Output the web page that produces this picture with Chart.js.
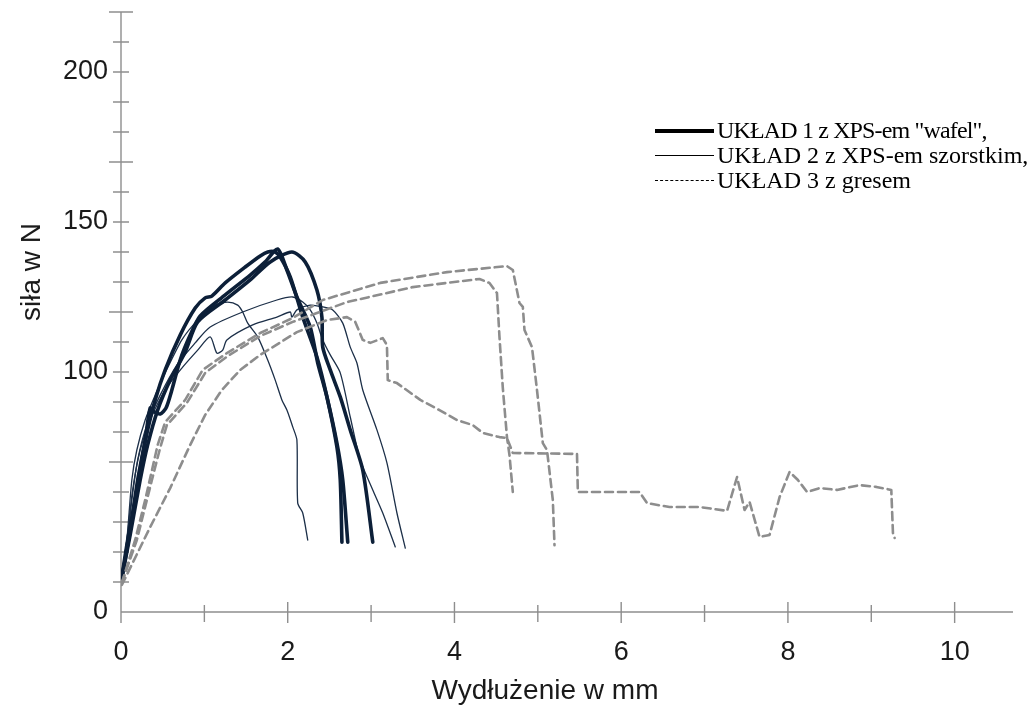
<!DOCTYPE html>
<html><head><meta charset="utf-8">
<script src="https://cdn.jsdelivr.net/npm/chart.js@4.4.1/dist/chart.umd.min.js"></script>
<style>
html,body{margin:0;padding:0;background:#fff;}
#wrap{position:relative;width:1033px;height:712px;overflow:hidden;}
canvas{position:absolute;left:0;top:0;}
.t{position:absolute;font-family:"Liberation Sans",Arial,sans-serif;color:#1a1a1a;white-space:nowrap;}
#xt{left:545px;top:690px;transform:translate(-50%,-50%);font-size:28px;}
#yt{left:31px;top:272px;transform:translate(-50%,-50%) rotate(-90deg);font-size:28px;}
#lg{position:absolute;left:655px;top:118px;font-family:"Liberation Serif","Times New Roman",serif;font-size:24px;color:#000;}
.row{display:flex;align-items:center;height:25px;white-space:nowrap;}
.r1{letter-spacing:-0.85px;}
.s{width:59px;margin-right:3px;height:0;letter-spacing:0;}
.s1{border-top:4px solid #000;}
.s2{border-top:1.6px solid #000;}
.s3{border-top:1.6px dashed #000;}
</style></head>
<body>
<div id="wrap">
<canvas id="c" width="1033" height="712"></canvas>
<div class="t" id="xt">Wydłużenie w mm</div>
<div class="t" id="yt">siła w N</div>
<div id="lg">
  <div class="row r1"><span class="s s1"></span>UKŁAD 1 z XPS-em "wafel",</div>
  <div class="row"><span class="s s2"></span>UKŁAD 2 z XPS-em szorstkim,</div>
  <div class="row"><span class="s s3"></span>UKŁAD 3 z gresem</div>
</div>
</div>
<script>
// ---- data (x: elongation mm, y: force on the chart's linear scale) ----
const seriesNames = ['UKŁAD 1 z XPS-em "wafel",', 'UKŁAD 2 z XPS-em szorstkim,', 'UKŁAD 3 z gresem'];

const wafel1X = [0.01,0.08,0.17,0.25,0.32,0.41,0.53,0.71,0.89,1.01,1.09,1.25,1.49,1.67,1.76,1.85,1.91,2.03,2.18,2.35,2.47,2.59,2.63,2.65];
const wafel1Y = [31.7,44.0,57.3,70.7,80.7,90.7,100.7,112.3,121.3,124.7,125.3,129.7,135.0,138.7,140.0,140.0,138.3,131.7,118.3,105.0,91.7,75.0,64.0,43.3];
const wafel2X = [0.01,0.11,0.20,0.29,0.35,0.40,0.47,0.54,0.61,0.71,0.83,0.95,1.25,1.55,1.73,1.88,1.99,2.11,2.27,2.36,2.47,2.59,2.66,2.72];
const wafel2Y = [31.3,47.3,64.0,77.3,88.0,86.7,86.0,88.0,94.0,104.0,112.3,118.7,125.7,132.3,136.7,141.0,134.0,125.0,115.0,103.0,91.7,76.3,64.0,43.3];
const wafel3X = [0.01,0.11,0.23,0.32,0.44,0.59,0.77,0.92,1.25,1.55,1.79,2.05,2.21,2.35,2.41,2.42,2.51,2.63,2.75,2.90,3.02];
const wafel3Y = [31.3,45.7,64.0,75.7,87.3,97.3,106.7,116.7,124.0,130.7,136.7,140.0,136.7,127.3,118.3,108.3,100.7,91.7,80.7,67.3,43.3];

const szorstki1X = [0.01,0.07,0.13,0.19,0.29,0.41,0.53,0.73,0.92,1.13,1.28,1.40,1.46,1.52,1.64,1.76,1.85,1.93,1.99,2.06,2.11,2.12,2.18,2.24];
const szorstki1Y = [31.7,44.0,64.0,74.0,84.0,92.3,99.7,110.7,117.3,122.3,123.3,122.3,120.0,116.3,111.7,104.0,97.3,90.7,87.3,81.7,77.3,56.3,53.0,44.0];
const szorstki2X = [0.01,0.07,0.14,0.23,0.35,0.53,0.73,0.92,1.07,1.15,1.22,1.27,1.58,1.87,2.03,2.05,2.11,2.27,2.42,2.54,2.66,2.75,2.83,2.90,3.07,3.19,3.31,3.41];
const szorstki2Y = [31.7,44.0,60.7,74.0,84.0,94.0,101.3,107.3,111.7,106.3,107.3,110.7,115.7,118.3,120.0,118.3,120.7,122.3,121.7,120.7,116.3,108.3,103.0,94.0,80.7,69.7,53.0,41.3];
const szorstki3X = [0.01,0.07,0.13,0.20,0.31,0.47,0.67,0.89,1.07,1.46,1.87,2.06,2.18,2.27,2.35,2.42,2.51,2.63,2.75,2.87,3.02,3.14,3.29];
const szorstki3Y = [31.7,42.3,57.3,70.7,82.3,92.3,102.3,109.7,115.0,120.0,124.0,125.0,123.3,120.7,116.3,110.7,105.7,99.7,85.0,70.7,60.7,53.0,41.7];

const gres1X = [0.01,0.17,0.29,0.38,0.44,0.53,0.77,0.98,1.27,1.67,2.06,2.42,3.11,3.91,4.63,4.70,4.78,4.82,4.84,4.93,4.99,5.06,5.11,5.18,5.20];
const gres1Y = [29.7,44.0,57.3,68.3,75.7,83.3,90.7,100.7,106.3,113.0,118.0,124.0,129.7,133.3,135.3,134.0,123.0,121.7,114.0,108.3,94.0,76.3,74.0,57.3,42.3];
const gres2X = [0.01,0.19,0.31,0.41,0.47,0.55,0.79,1.01,1.28,1.67,2.06,2.71,3.50,4.30,4.42,4.51,4.54,4.58,4.63,4.66,4.70];
const gres2Y = [29.7,44.0,57.3,68.3,74.7,82.3,89.7,99.7,105.3,112.0,116.7,123.3,128.3,131.0,129.7,126.3,111.7,94.7,78.3,72.3,60.0];
const gres3X = [0.01,0.35,0.59,0.83,1.01,1.21,1.43,1.67,2.11,2.47,2.71,2.81,2.90,2.99,3.14,3.19,3.20,3.31,3.59,3.82,4.03,4.22,4.34,4.54,4.63,4.70,5.47,5.48,6.22,6.31,6.58,6.94,7.27,7.39,7.48,7.54,7.66,7.78,7.90,8.02,8.12,8.23,8.38,8.59,8.86,9.06,9.24,9.26,9.28];
const gres3Y = [29.0,48.3,61.3,75.7,85.7,94.0,100.7,105.7,113.3,117.3,118.3,116.7,110.7,109.7,111.3,109.0,97.3,96.3,90.7,87.3,84.0,82.3,79.7,78.3,78.0,73.0,72.7,60.0,60.0,56.3,55.0,55.0,53.7,65.0,54.0,56.7,45.0,45.7,58.3,66.7,64.0,60.0,61.3,60.7,62.3,61.7,60.7,46.3,44.7];

// ---- axes ----
const xMin = 0, xMax = 10.7, yMin = 20, yMax = 220;
const xTickValues = [0,1,2,3,4,5,6,7,8,9,10];
const xLabelValues = [0,2,4,6,8,10];
const yTickValues = [20,30,40,50,60,70,80,90,100,110,120,130,140,150,160,170,180,190,200,210,220];
const yLongTicks = [70,120,170,220];
const yLabelValues = [20,100,150,200];
const yLabelTexts = ['0','100','150','200'];

function pts(xs, ys){ return xs.map((x,i)=>({x:x, y:ys[i]})); }

const navy = '#0c1f38';
const grey = '#8d8d8d';
function thick(xs,ys){ return {label:seriesNames[0], data:pts(xs,ys), borderColor:navy, borderWidth:3.6, tension:0.25}; }
function thin(xs,ys){ return {label:seriesNames[1], data:pts(xs,ys), borderColor:'#1c2f48', borderWidth:1.3, tension:0.25}; }
function dashed(xs,ys){ return {label:seriesNames[2], data:pts(xs,ys), borderColor:grey, borderWidth:2.6, borderDash:[8,5], tension:0}; }

const datasets = [
  dashed(gres1X,gres1Y), dashed(gres2X,gres2Y), dashed(gres3X,gres3Y),
  thick(wafel1X,wafel1Y), thick(wafel2X,wafel2Y), thick(wafel3X,wafel3Y),
  thin(szorstki1X,szorstki1Y), thin(szorstki2X,szorstki2Y), thin(szorstki3X,szorstki3Y)
];

const axisPlugin = {
  id:'crossAxes',
  beforeDatasetsDraw(chart){
    const {ctx, scales:{x,y}} = chart;
    const x0 = x.getPixelForValue(xMin), y0 = y.getPixelForValue(yMin);
    ctx.save();
    ctx.strokeStyle = '#8e8e8e'; ctx.lineWidth = 1.4;
    ctx.beginPath();
    ctx.moveTo(x0, y.getPixelForValue(yMax)); ctx.lineTo(x0, y0 + 11);
    ctx.moveTo(x0, y0); ctx.lineTo(x.getPixelForValue(xMax), y0);
    yTickValues.forEach(v=>{
      if (v === yMin) return;
      const p = y.getPixelForValue(v);
      const h = yLongTicks.includes(v) ? 12 : 8;
      ctx.moveTo(x0-h, p); ctx.lineTo(x0+h, p);
    });
    xTickValues.forEach(v=>{
      const p = x.getPixelForValue(v);
      if (xLabelValues.includes(v)) { ctx.moveTo(p, y0-10); ctx.lineTo(p, y0+11); }
      else { ctx.moveTo(p, y0-7); ctx.lineTo(p, y0+10); }
    });
    ctx.stroke();
    ctx.restore();
  }
};

function zeroPad(s){ s.paddingTop = 0; s.paddingBottom = 0; s.paddingLeft = 0; s.paddingRight = 0; }

const tickFont = {family:'"Liberation Sans", Arial, sans-serif', size:27};
new Chart(document.getElementById('c'), {
  type:'scatter',
  data:{datasets},
  options:{
    responsive:false, animation:false, devicePixelRatio:1,
    showLine:true,
    elements:{point:{radius:0, hoverRadius:0}, line:{borderCapStyle:'round', borderJoinStyle:'round'}},
    layout:{padding:{top:12, right:20, left:0, bottom:0}},
    plugins:{legend:{display:false}, tooltip:{enabled:false}},
    scales:{
      x:{type:'linear', min:xMin, max:xMax,
        grid:{display:false, drawTicks:false}, border:{display:false},
        afterFit(s){ s.height = 100; zeroPad(s); },
        ticks:{stepSize:1, includeBounds:false, autoSkip:false, maxRotation:0, padding:24, color:'#1a1a1a', font:tickFont,
          callback:(v)=> xLabelValues.includes(v) ? String(v) : ''}
      },
      y:{type:'linear', min:yMin, max:yMax,
        grid:{display:false, drawTicks:false}, border:{display:false},
        afterFit(s){ s.width = 121; zeroPad(s); },
        ticks:{stepSize:10, includeBounds:false, autoSkip:false, padding:13, color:'#1a1a1a', font:tickFont,
          callback:(v)=>{ const i = yLabelValues.indexOf(v); return i>=0 ? yLabelTexts[i] : ''; }}
      }
    }
  },
  plugins:[axisPlugin]
});
</script>
</body></html>
